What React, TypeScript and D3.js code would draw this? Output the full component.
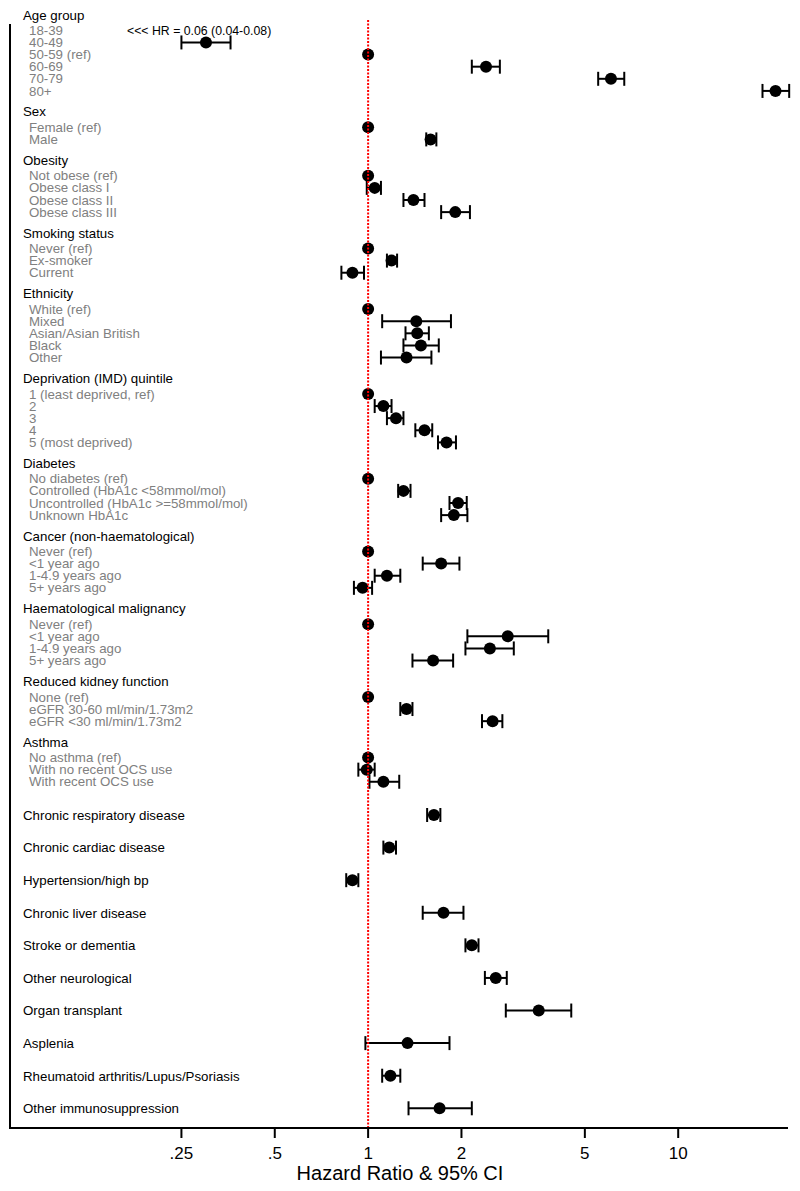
import React from "react";
import * as d3 from "d3";

type Est = { label: string; hr: number; lo: number; hi: number };

const ageGroup: Est[] = [
  { label: "18-39", hr: 0.06, lo: 0.04, hi: 0.08 },
  { label: "40-49", hr: 0.3, lo: 0.25, hi: 0.36 },
  { label: "50-59 (ref)", hr: 1, lo: 1, hi: 1 },
  { label: "60-69", hr: 2.4, lo: 2.16, hi: 2.66 },
  { label: "70-79", hr: 6.07, lo: 5.52, hi: 6.7 },
  { label: "80+", hr: 20.6, lo: 18.7, hi: 22.8 },
];
const sex: Est[] = [
  { label: "Female (ref)", hr: 1, lo: 1, hi: 1 },
  { label: "Male", hr: 1.59, lo: 1.54, hi: 1.66 },
];
const obesity: Est[] = [
  { label: "Not obese (ref)", hr: 1, lo: 1, hi: 1 },
  { label: "Obese class I", hr: 1.05, lo: 0.99, hi: 1.1 },
  { label: "Obese class II", hr: 1.4, lo: 1.3, hi: 1.52 },
  { label: "Obese class III", hr: 1.91, lo: 1.72, hi: 2.13 },
];
const smoking: Est[] = [
  { label: "Never (ref)", hr: 1, lo: 1, hi: 1 },
  { label: "Ex-smoker", hr: 1.19, lo: 1.15, hi: 1.24 },
  { label: "Current", hr: 0.89, lo: 0.82, hi: 0.97 },
];
const ethnicity: Est[] = [
  { label: "White (ref)", hr: 1, lo: 1, hi: 1 },
  { label: "Mixed", hr: 1.43, lo: 1.11, hi: 1.85 },
  { label: "Asian/Asian British", hr: 1.44, lo: 1.32, hi: 1.57 },
  { label: "Black", hr: 1.48, lo: 1.3, hi: 1.69 },
  { label: "Other", hr: 1.33, lo: 1.1, hi: 1.6 },
];
const deprivation: Est[] = [
  { label: "1 (least deprived, ref)", hr: 1, lo: 1, hi: 1 },
  { label: "2", hr: 1.12, lo: 1.05, hi: 1.19 },
  { label: "3", hr: 1.23, lo: 1.15, hi: 1.3 },
  { label: "4", hr: 1.52, lo: 1.42, hi: 1.61 },
  { label: "5 (most deprived)", hr: 1.79, lo: 1.68, hi: 1.92 },
];
const diabetes: Est[] = [
  { label: "No diabetes (ref)", hr: 1, lo: 1, hi: 1 },
  { label: "Controlled (HbA1c <58mmol/mol)", hr: 1.3, lo: 1.25, hi: 1.37 },
  { label: "Uncontrolled (HbA1c >=58mmol/mol)", hr: 1.95, lo: 1.83, hi: 2.08 },
  { label: "Unknown HbA1c", hr: 1.89, lo: 1.72, hi: 2.09 },
];
const cancer: Est[] = [
  { label: "Never (ref)", hr: 1, lo: 1, hi: 1 },
  { label: "<1 year ago", hr: 1.72, lo: 1.5, hi: 1.97 },
  { label: "1-4.9 years ago", hr: 1.15, lo: 1.05, hi: 1.27 },
  { label: "5+ years ago", hr: 0.96, lo: 0.9, hi: 1.03 },
];
const haemMalignancy: Est[] = [
  { label: "Never (ref)", hr: 1, lo: 1, hi: 1 },
  { label: "<1 year ago", hr: 2.82, lo: 2.09, hi: 3.81 },
  { label: "1-4.9 years ago", hr: 2.47, lo: 2.06, hi: 2.95 },
  { label: "5+ years ago", hr: 1.62, lo: 1.39, hi: 1.88 },
];
const kidney: Est[] = [
  { label: "None (ref)", hr: 1, lo: 1, hi: 1 },
  { label: "eGFR 30-60 ml/min/1.73m2", hr: 1.33, lo: 1.27, hi: 1.39 },
  { label: "eGFR <30 ml/min/1.73m2", hr: 2.52, lo: 2.33, hi: 2.71 },
];
const asthma: Est[] = [
  { label: "No asthma (ref)", hr: 1, lo: 1, hi: 1 },
  { label: "With no recent OCS use", hr: 0.99, lo: 0.93, hi: 1.05 },
  { label: "With recent OCS use", hr: 1.12, lo: 1.01, hi: 1.26 },
];
const comorbidities: Est[] = [
  { label: "Chronic respiratory disease", hr: 1.63, lo: 1.55, hi: 1.71 },
  { label: "Chronic cardiac disease", hr: 1.17, lo: 1.12, hi: 1.23 },
  { label: "Hypertension/high bp", hr: 0.89, lo: 0.85, hi: 0.93 },
  { label: "Chronic liver disease", hr: 1.75, lo: 1.5, hi: 2.03 },
  { label: "Stroke or dementia", hr: 2.16, lo: 2.06, hi: 2.27 },
  { label: "Other neurological", hr: 2.58, lo: 2.38, hi: 2.8 },
  { label: "Organ transplant", hr: 3.55, lo: 2.78, hi: 4.52 },
  { label: "Asplenia", hr: 1.34, lo: 0.98, hi: 1.83 },
  { label: "Rheumatoid arthritis/Lupus/Psoriasis", hr: 1.18, lo: 1.11, hi: 1.27 },
  { label: "Other immunosuppression", hr: 1.7, lo: 1.35, hi: 2.16 },
];

const groupTitles = [
  "Age group",
  "Sex",
  "Obesity",
  "Smoking status",
  "Ethnicity",
  "Deprivation (IMD) quintile",
  "Diabetes",
  "Cancer (non-haematological)",
  "Haematological malignancy",
  "Reduced kidney function",
  "Asthma",
];
const groupRows = [
  ageGroup, sex, obesity, smoking, ethnicity, deprivation,
  diabetes, cancer, haemMalignancy, kidney, asthma,
];

const tickValues = [0.25, 0.5, 1, 2, 5, 10];
const tickLabels = [".25", ".5", "1", "2", "5", "10"];
const axisTitle = "Hazard Ratio & 95% CI";

const W = 800;
const H = 1191;
const FONT = "'Liberation Sans', Arial, Helvetica, sans-serif";

type Item = { kind: "header" | "row" | "single"; text: string; y: number; est?: Est };

export default function App() {
  const x = d3.scaleLog().domain([0.07, 22.6]).range([10, 788]);
  const axisY = 1128;

  // grouped section: row index -> y
  const items: Item[] = [];
  let idx = 0;
  const yRow = d3.scaleLinear().domain([0, 1]).range([18.2, 18.2 + 12.12]);
  groupTitles.forEach((t, gi) => {
    items.push({ kind: "header", text: t, y: yRow(idx) });
    idx++;
    groupRows[gi].forEach((r) => {
      items.push({ kind: "row", text: r.label, y: yRow(idx), est: r });
      idx++;
    });
    idx++;
  });
  const ySingle = d3
    .scalePoint<number>()
    .domain(comorbidities.map((_, i) => i))
    .range([815, 1108.3]);
  comorbidities.forEach((r, i) => {
    items.push({ kind: "single", text: r.label, y: ySingle(i) as number, est: r });
  });

  const xMin = x.domain()[0];
  const cap = 7;

  return (
    <div style={{ position: "absolute", left: 0, top: 0 }}>
      <svg width={W} height={H} style={{ display: "block", background: "#fff" }} fontFamily={FONT}>
        <rect width={W} height={H} fill="#fff" />
        {/* labels */}
        {items.map((it, i) =>
          it.kind === "header" ? (
            <text key={"l" + i} x={23} y={it.y + 1.3} fontSize={13.3} fill="#000">
              {it.text}
            </text>
          ) : it.kind === "row" ? (
            <text key={"l" + i} x={29} y={it.y + 4.6} fontSize={13.3} fill="#808080">
              {it.text}
            </text>
          ) : (
            <text key={"l" + i} x={23} y={it.y + 4.8} fontSize={13.3} fill="#000">
              {it.text}
            </text>
          )
        )}
        {/* estimates */}
        {items
          .filter((it) => it.est)
          .map((it, i) => {
            const e = it.est as Est;
            if (e.hr < xMin) {
              return (
                <text key={"e" + i} x={127} y={it.y + 4.4} fontSize={12.3} fill="#000">
                  {`<<< HR = ${e.hr.toFixed(2)} (${e.lo.toFixed(2)}-${e.hi.toFixed(2)})`}
                </text>
              );
            }
            const hasCI = e.hi > e.lo;
            return (
              <g key={"e" + i}>
                {hasCI && (
                  <g stroke="#000" strokeWidth={2}>
                    <line x1={x(e.lo)} x2={x(e.hi)} y1={it.y} y2={it.y} />
                    <line x1={x(e.lo)} x2={x(e.lo)} y1={it.y - cap} y2={it.y + cap} />
                    <line x1={x(e.hi)} x2={x(e.hi)} y1={it.y - cap} y2={it.y + cap} />
                  </g>
                )}
                <circle cx={x(e.hr)} cy={it.y} r={6} fill="#000" />
              </g>
            );
          })}
        {/* reference line */}
        <line
          x1={x(1)}
          x2={x(1)}
          y1={20}
          y2={axisY}
          stroke="#ff0000"
          strokeWidth={2}
          strokeDasharray="2 1.5"
        />
        {/* axes */}
        <line x1={10} x2={10} y1={24} y2={axisY + 1} stroke="#000" strokeWidth={2} />
        <line x1={9} x2={x.range()[1]} y1={axisY} y2={axisY} stroke="#000" strokeWidth={2} />
        {tickValues.map((v, i) => (
          <g key={"t" + i}>
            <line x1={x(v)} x2={x(v)} y1={axisY} y2={axisY + 10} stroke="#000" strokeWidth={2} />
            <text x={x(v)} y={axisY + 31} fontSize={17} textAnchor="middle" fill="#000">
              {tickLabels[i]}
            </text>
          </g>
        ))}
        <text x={400} y={axisY + 52} fontSize={20} textAnchor="middle" fill="#000">
          {axisTitle}
        </text>
      </svg>
    </div>
  );
}
